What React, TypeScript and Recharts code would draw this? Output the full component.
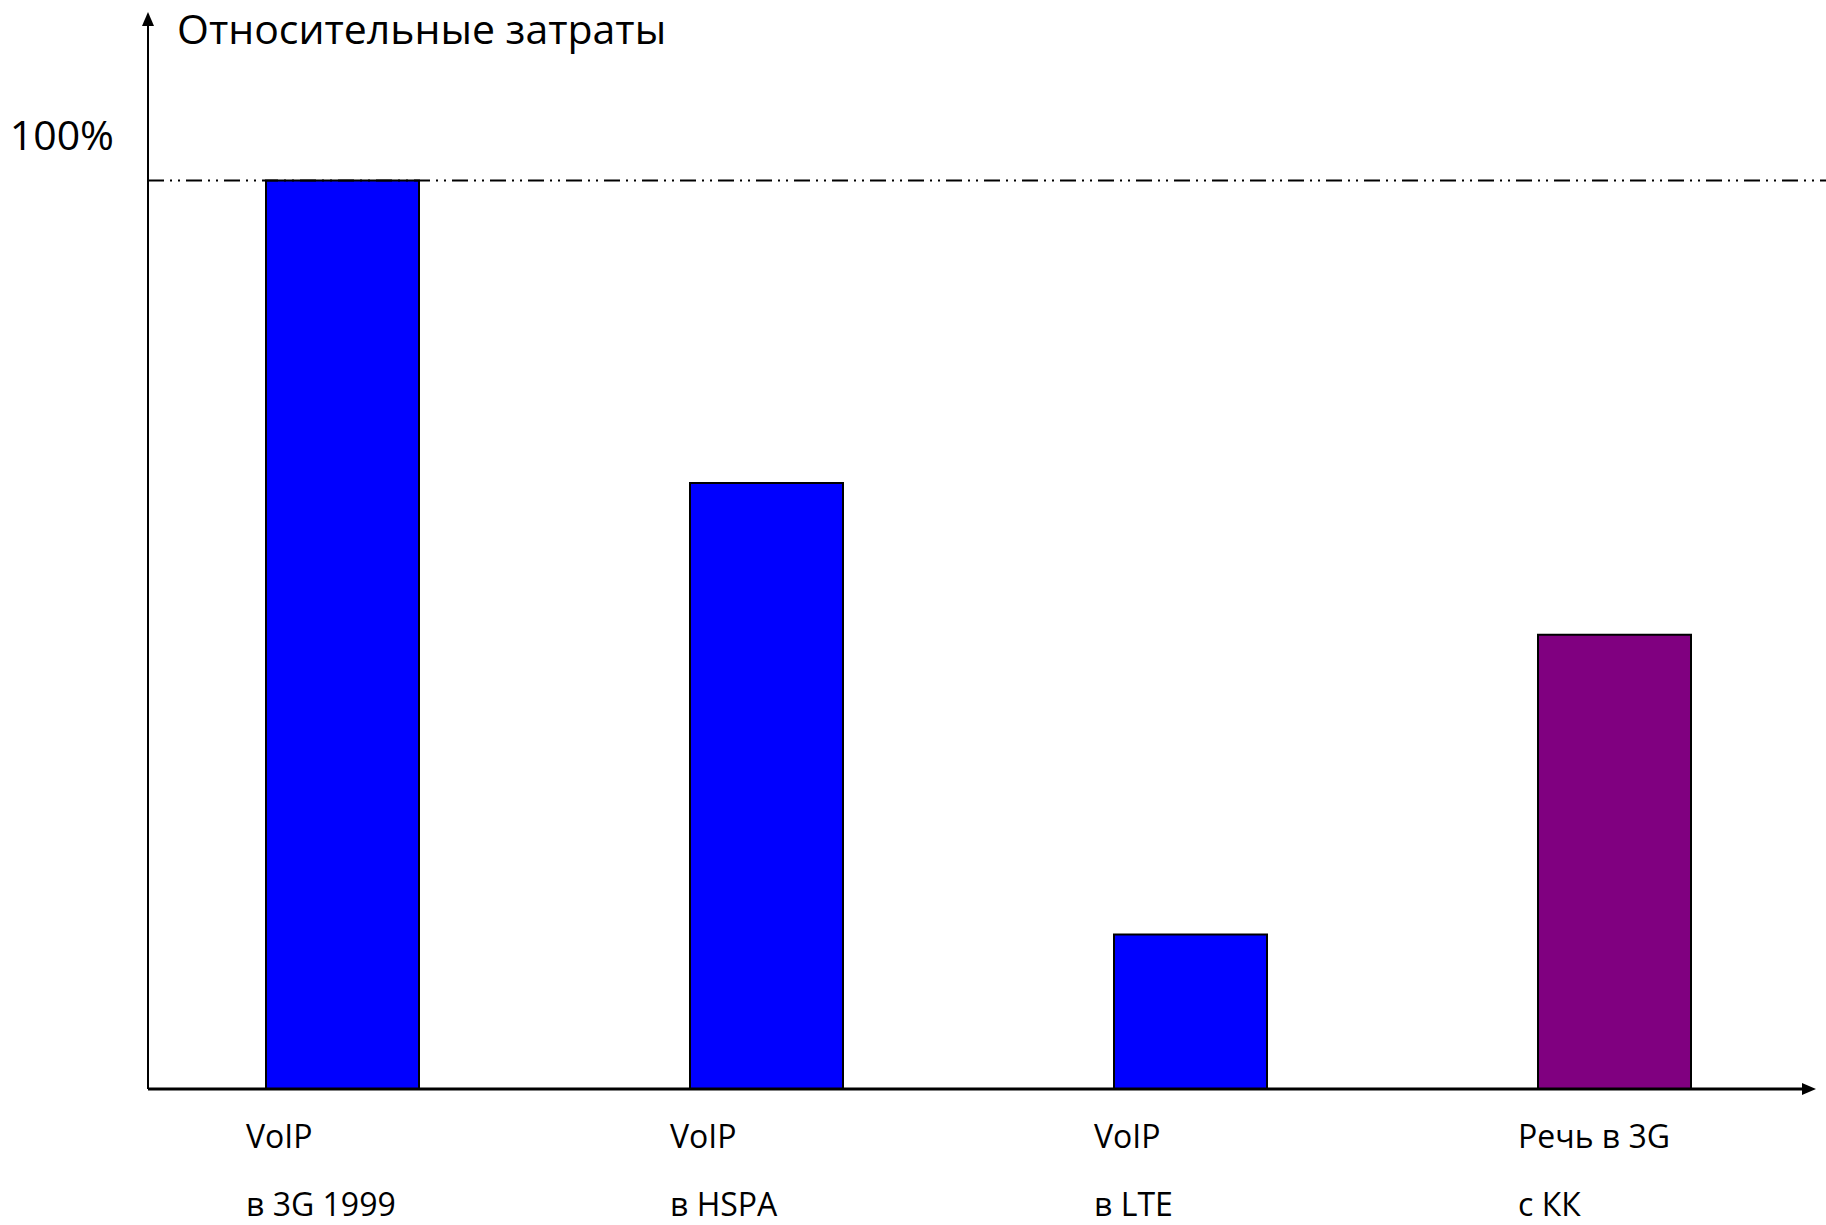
import React from "react";
import { ComposedChart, Bar, Cell, XAxis, YAxis, ReferenceLine, Customized } from "recharts";

// categories (two text lines each)
const labelTop = ["VoIP", "VoIP", "VoIP", "Речь в 3G"];
const labelBottom = ["в 3G 1999", "в HSPA", "в LTE", "с КК"];
// relative cost, % of VoIP in 3G 1999
const costs = [100, 66.7, 17, 50];
const yTicks = [100];

const BLUE = "#0000FF";
const PURPLE = "#800080";
const barFills = [BLUE, BLUE, BLUE, PURPLE];

const W = 1826;
const H = 1225;
const LEFT = 148;
const TOP = 17;
const RIGHT = 15;
const BOTTOM = 136;
const FONT = "'Open Sans', 'Noto Sans', sans-serif";

const data = costs.map((v, i) => ({ name: labelTop[i] + " " + labelBottom[i], idx: i, cost: v }));

const XTick = (props: any) => {
  const { x, y, payload } = props;
  const i = payload.index;
  return (
    <g>
      <text x={x - 96} y={y + 57} textAnchor="start" fontSize={32} fontFamily={FONT} fill="#000">
        {labelTop[i]}
      </text>
      <text x={x - 96} y={y + 125} textAnchor="start" fontSize={32} fontFamily={FONT} fill="#000">
        {labelBottom[i]}
      </text>
    </g>
  );
};

const YTick = (props: any) => {
  const { x, y, payload } = props;
  return (
    <text x={x - 32} y={y - 31} textAnchor="end" fontSize={41} fontFamily={FONT} fill="#000">
      {payload.value}%
    </text>
  );
};

const Decorations = () => {
  const xAxisY = H - BOTTOM;
  const xEnd = W - RIGHT;
  return (
    <g>
      <polygon points={`${LEFT},${TOP - 5} ${LEFT - 6},${TOP + 9} ${LEFT + 6},${TOP + 9}`} fill="#000" />
      <polygon points={`${xEnd + 5},${xAxisY} ${xEnd - 9},${xAxisY - 6} ${xEnd - 9},${xAxisY + 6}`} fill="#000" />
      <text x={LEFT + 29} y={TOP + 27} fontSize={41} fontFamily={FONT} fill="#000">
        Относительные затраты
      </text>
    </g>
  );
};

const RefShape = (props: any) => {
  const { x1, y1, x2, y2 } = props;
  return (
    <line x1={x1} y1={y1} x2={x2 + RIGHT} y2={y2} stroke="#000" strokeWidth={2} strokeDasharray="16 6 2 6 2 6" />
  );
};

export default function App() {
  return (
    <div style={{ position: "absolute", left: 0, top: 0, width: W, height: H, background: "#fff" }}>
      <ComposedChart width={W} height={H} data={data} margin={{ top: TOP, right: RIGHT, bottom: 0, left: 0 }}>
        <XAxis
          dataKey="idx"
          type="category"
          height={BOTTOM}
          axisLine={{ stroke: "#000", strokeWidth: 3 }}
          tickLine={false}
          tickSize={0}
          tick={<XTick />}
          interval={0}
          padding={{ left: -18, right: -15 }}
        />
        <YAxis
          type="number"
          domain={[0, 118]}
          ticks={yTicks}
          width={LEFT}
          axisLine={{ stroke: "#000", strokeWidth: 2 }}
          tickLine={false}
          tickSize={0}
          tick={<YTick />}
        />
        <ReferenceLine y={100} shape={<RefShape />} ifOverflow="visible" />
        <Bar dataKey="cost" barSize={153} stroke="#000" strokeWidth={2} isAnimationActive={false}>
          {data.map((d, i) => (
            <Cell key={d.name} fill={barFills[i]} />
          ))}
        </Bar>
        <Customized component={Decorations} />
      </ComposedChart>
    </div>
  );
}
